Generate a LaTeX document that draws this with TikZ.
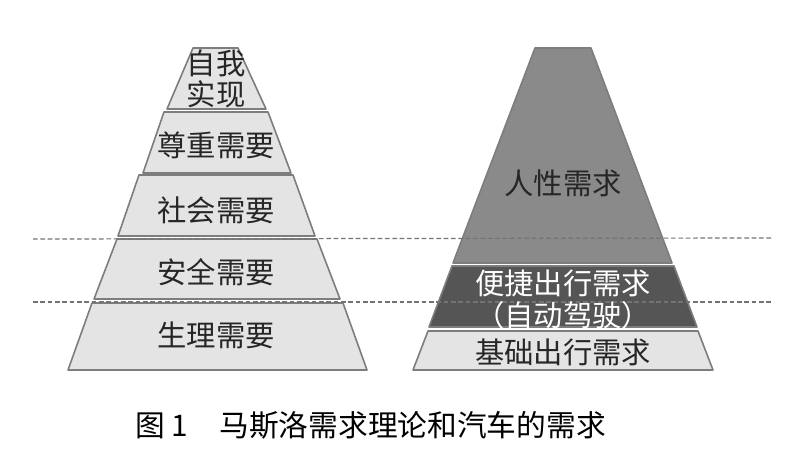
\documentclass[tikz,border=0pt]{standalone}
\usepackage{fontspec}
\setmainfont{Noto Sans CJK SC}
\definecolor{tierlight}{RGB}{228,228,228}
\definecolor{tiermid}{RGB}{138,138,138}
\definecolor{tierdark}{RGB}{85,85,85}
\definecolor{tierline}{RGB}{125,125,125}
\begin{document}
\begin{tikzpicture}[x=0.75pt,y=0.75pt,yscale=-1,xscale=1,
  tier/.style={draw=tierline,line width=1.2pt,line join=round},
  level/.style={inner sep=0.75pt,font=\fontsize{22}{25}\selectfont,text=black!85},
  split/.style={draw=black!55,line width=0.9pt,dash pattern=on 3.5pt off 2pt}]
\useasboundingbox (0,0) rectangle (800,459);

%Shape: Trapezoid [left pyramid]
\draw [tier,fill=tierlight] (193,48) -- (238,48) -- (266,109) -- (167,109) -- cycle ;
\draw [tier,fill=tierlight] (164,112) -- (268,112) -- (291,173) -- (143,173) -- cycle ;
\draw [tier,fill=tierlight] (139,175) -- (293,175) -- (315,236) -- (118,236) -- cycle ;
\draw [tier,fill=tierlight] (117,239) -- (317,239) -- (340,299) -- (94,299) -- cycle ;
\draw [tier,fill=tierlight] (92,303) -- (343,303) -- (367,370) -- (68,370) -- cycle ;

%Shape: Trapezoid [right pyramid]
\draw [tier,fill=tiermid] (535,48) -- (591,48) -- (672,263) -- (453,263) -- cycle ;
\draw [tier,fill=tierdark] (452,266) -- (674,266) -- (697,327) -- (429,327) -- cycle ;
\draw [tier,fill=tierlight] (428,331) -- (698,331) -- (713,370) -- (413,370) -- cycle ;

%Straight Lines [dashed]
\draw [split] (33,239) -- (772,238) ;
\draw [split] (33,302) -- (772,302) ;

% Text Node
\node [level] (self1) at (216,63) {自我};
% Text Node
\node [level] (self2) at (216,94) {实现};
% Text Node
\node [level] (esteem) at (216,145) {尊重需要};
% Text Node
\node [level] (social) at (216,210) {社会需要};
% Text Node
\node [level] (safety) at (216,272) {安全需要};
% Text Node
\node [level] (physio) at (216,335) {生理需要};

% Text Node
\node [level] (human) at (563,183) {人性需求};
% Text Node
\node [level,text=white] (easy) at (563,283) {便捷出行需求};
% Text Node
\node [level,text=white] (auto) at (563,315) {（自动驾驶）};
% Text Node
\node [level] (basic) at (563,352) {基础出行需求};

% Text Node
\node [inner sep=0.75pt,font=\fontsize{22.3}{25}\selectfont,anchor=west] (caption) at (134,425) {图 1\hspace{1.05em}马斯洛需求理论和汽车的需求};

\end{tikzpicture}
\end{document}
